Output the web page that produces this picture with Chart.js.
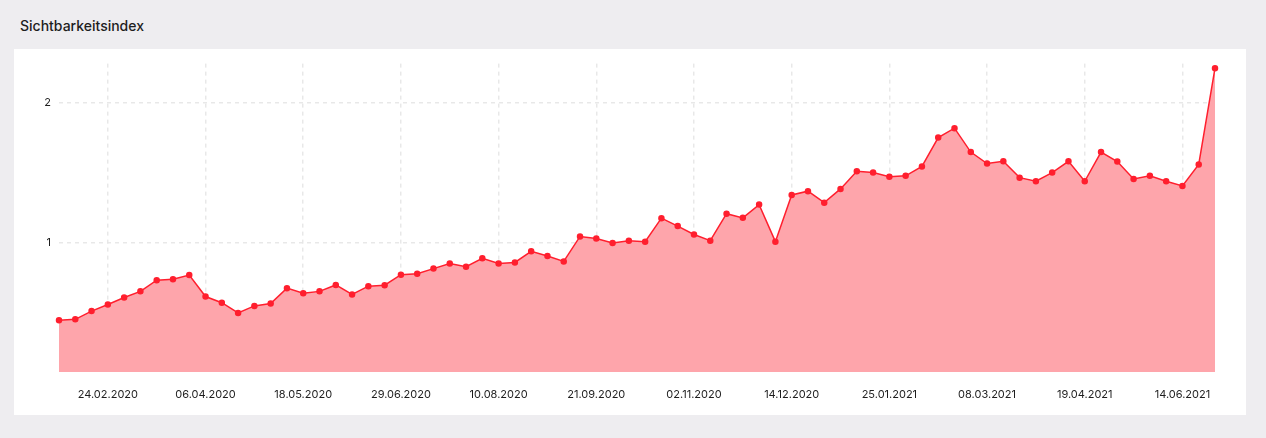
<!DOCTYPE html>
<html><head><meta charset="utf-8">
<script src="https://cdn.jsdelivr.net/npm/chart.js@4"></script>
<style>
html,body{margin:0;padding:0;background:#eeedf0;width:1266px;height:438px;overflow:hidden;font-family:Inter,sans-serif}
#title{position:absolute;left:20px;top:17px;font-size:14px;font-weight:500;color:#1e1e1e}
#card{position:absolute;left:14px;top:49px;width:1232px;height:366px;background:#fff}
</style></head><body>
<div id="title">Sichtbarkeitsindex</div>
<div id="card"><canvas id="c" width="1232" height="366"></canvas></div>
<script>
const tickLabels = ["24.02.2020","06.04.2020","18.05.2020","29.06.2020","10.08.2020","21.09.2020","02.11.2020","14.12.2020","25.01.2021","08.03.2021","19.04.2021","14.06.2021"];
const tickIndexes = [3,9,15,21,27,33,39,45,51,57,63,69];
const values = [0.446,0.453,0.512,0.559,0.609,0.653,0.733,0.740,0.770,0.616,0.572,0.499,0.549,0.566,0.676,0.639,0.653,0.699,0.631,0.690,
0.697,0.772,0.779,0.816,0.853,0.830,0.890,0.853,0.860,0.940,0.906,0.867,1.046,1.032,1.000,1.016,1.009,1.177,1.120,1.060,
1.016,1.209,1.179,1.274,1.009,1.343,1.370,1.288,1.386,1.513,1.503,1.473,1.480,1.547,1.754,1.821,1.650,1.568,1.584,1.467,
1.441,1.503,1.584,1.441,1.650,1.582,1.457,1.480,1.441,1.407,1.561,2.250];
const yTicks = [1,2];
const categories = values.map((v,i)=>{const k=tickIndexes.indexOf(i);return k>=0?tickLabels[k]:"";});
new Chart(document.getElementById('c'),{
 type:'line',
 data:{labels:categories,datasets:[{data:values,borderColor:'#ff1f2e',backgroundColor:'#fea5ab',fill:'start',borderWidth:1.5,
  pointRadius:2.5,pointBackgroundColor:'#ff1f2e',pointBorderColor:'#ff1f2e',tension:0}]},
 options:{responsive:false,animation:false,layout:{padding:{top:3,right:31,left:0,bottom:0}},
  plugins:{legend:{display:false},tooltip:{enabled:false}},
  scales:{
   x:{offset:false,z:1,border:{display:false},
    grid:{color:c=>categories[c.index]?'rgba(230,230,230,0.9)':'rgba(0,0,0,0)',drawTicks:false,lineWidth:1.5},
    border:{display:false,dash:[4,4]},
    ticks:{autoSkip:false,maxRotation:0,padding:16,color:'#1e1e1e',font:{family:'Inter',size:11},callback:(v,i)=>categories[i]},
    afterFit:s=>{s.height=43;}},
   y:{min:0.076,max:2.283,z:1,border:{display:false,dash:[4,4]},
    grid:{color:'rgba(230,230,230,0.9)',drawTicks:false,lineWidth:1.5},
    afterBuildTicks:s=>{s.ticks=yTicks.map(v=>({value:v}));},
    ticks:{padding:8,color:'#1e1e1e',font:{family:'Inter',size:11}},
    afterFit:s=>{s.width=45;}}
  }}
});
</script></body></html>
